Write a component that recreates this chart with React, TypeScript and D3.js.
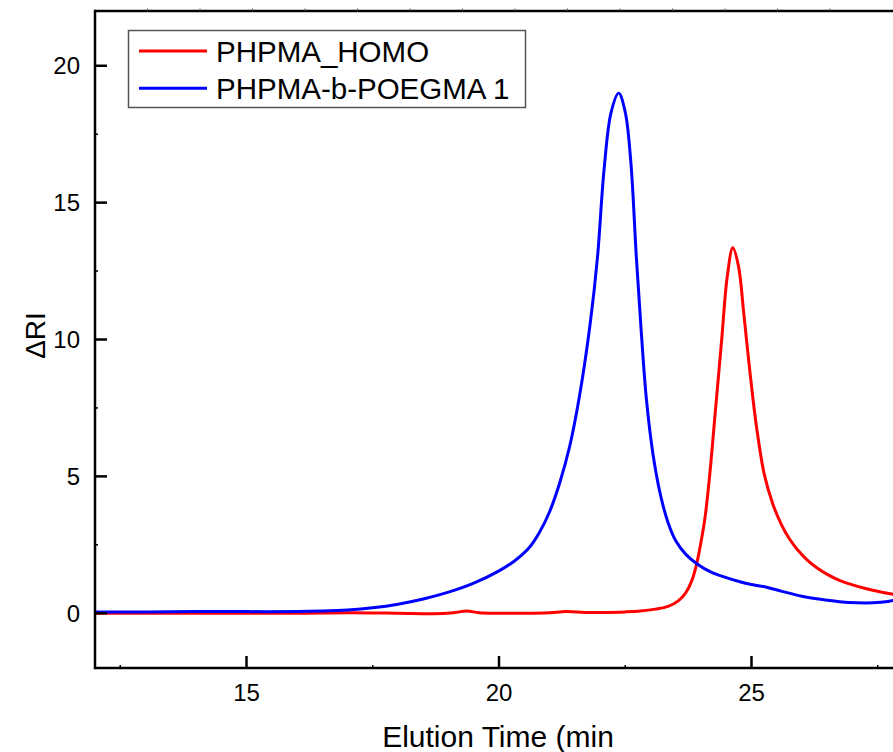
import React from 'react';
import * as d3 from 'd3';

// PHPMA_HOMO (red)
const homoX = [12, 13, 14, 15, 16, 17, 18, 18.7, 19.1, 19.36, 19.6, 20, 20.5, 21, 21.33, 21.7, 22, 22.5, 22.8, 23.1, 23.35, 23.55, 23.7, 23.82, 23.92, 24.0, 24.08, 24.17, 24.29, 24.41, 24.52, 24.63, 24.74, 24.85, 24.97, 25.1, 25.25, 25.42, 25.59, 25.75, 25.92, 26.1, 26.3, 26.5, 26.74, 27.1, 27.4, 27.78, 28.0];
const homoY = [0.0, 0.0, 0.0, 0.0, 0.0, 0.02, 0.0, -0.02, 0.02, 0.08, 0.02, 0.0, 0.0, 0.02, 0.06, 0.03, 0.03, 0.05, 0.08, 0.15, 0.25, 0.45, 0.75, 1.2, 1.85, 2.6, 3.5, 5.0, 7.5, 10.0, 12.3, 13.35, 12.7, 10.9, 8.8, 6.8, 5.1, 4.0, 3.25, 2.72, 2.3, 1.95, 1.65, 1.42, 1.2, 0.98, 0.84, 0.7, 0.63];

// PHPMA-b-POEGMA 1 (blue)
const blockX = [12, 13, 14, 15, 16, 16.5, 17, 17.5, 18, 18.5, 19, 19.5, 20, 20.3, 20.6, 20.8, 21.0, 21.2, 21.4, 21.6, 21.8, 21.95, 22.08, 22.22, 22.37, 22.5, 22.61, 22.72, 22.82, 22.92, 23.05, 23.2, 23.35, 23.5, 23.7, 23.91, 24.2, 24.5, 24.77, 25.0, 25.3, 25.6, 26.0, 26.4, 26.74, 27.1, 27.4, 27.7, 28.0];
const blockY = [0.05, 0.05, 0.06, 0.06, 0.06, 0.08, 0.12, 0.2, 0.33, 0.52, 0.77, 1.1, 1.55, 1.9, 2.4, 2.95, 3.7, 4.75, 6.1, 8.0, 10.5, 13.0, 16.2, 18.3, 19.0, 18.3, 16.5, 13.0, 10.2, 7.8, 5.8, 4.3, 3.3, 2.65, 2.15, 1.82, 1.5, 1.3, 1.15, 1.05, 0.95, 0.8, 0.62, 0.5, 0.42, 0.38, 0.38, 0.43, 0.55];

const seriesNames = ['PHPMA_HOMO', 'PHPMA-b-POEGMA 1'];
const seriesColors = ['#ff0000', '#0000ff'];

const xMajor = [15, 20, 25];
const xMinor = [12.5, 17.5, 22.5, 27.5];
const yMajor = [0, 5, 10, 15, 20];
const yMinor = [2.5, 7.5, 12.5, 17.5];
const topTicks = [1, 2, 3, 4, 5, 6, 7, 8, 9, 10, 11, 12, 13, 14];

const W = 893;
const H = 752;
const left = 95;
const right = 903;
const top = 11;
const bottom = 668;
const font = '"Liberation Sans", Arial, sans-serif';

export default function App() {
  const x = d3.scaleLinear().domain([12, 28]).range([left, right]);
  const y = d3.scaleLinear().domain([-2, 22]).range([bottom, top]);
  const xTop = d3.scaleLinear().domain([0, 15.2]).range([left, left + 15.2 * 52.5]);

  const line = d3.line<[number, number]>()
    .x(d => x(d[0]))
    .y(d => y(d[1]))
    .curve(d3.curveCatmullRom.alpha(0.5));

  const homo = homoX.map((v, i) => [v, homoY[i]] as [number, number]);
  const block = blockX.map((v, i) => [v, blockY[i]] as [number, number]);

  // legend
  const lg = { x: 128.5, y: 30.5, w: 397, h: 77 };

  return (
    <svg width={W} height={H} style={{ position: 'absolute', left: 0, top: 0, background: '#fff' }}>
      <defs>
        <clipPath id="plot">
          <rect x={left} y={top} width={right - left} height={bottom - top} />
        </clipPath>
      </defs>

      <g clipPath="url(#plot)">
        <path d={line(homo) || ''} fill="none" stroke={seriesColors[0]} strokeWidth={3} />
        <path d={line(block) || ''} fill="none" stroke={seriesColors[1]} strokeWidth={3} />
      </g>

      {/* frame */}
      <line x1={left} x2={W + 20} y1={top} y2={top} stroke="#000" strokeWidth={2.5} />
      <line x1={left} x2={W + 20} y1={bottom} y2={bottom} stroke="#000" strokeWidth={2.5} />
      <line x1={left} x2={left} y1={top - 1.2} y2={bottom + 1.2} stroke="#000" strokeWidth={2.5} />

      {/* top axis tiny ticks */}
      {topTicks.map(t => (
        <line key={'tt' + t} x1={xTop(t)} x2={xTop(t)} y1={top} y2={top - 2.5} stroke="#555" strokeWidth={1} />
      ))}

      {/* x ticks */}
      {xMajor.map(t => (
        <g key={'xm' + t}>
          <line x1={x(t)} x2={x(t)} y1={bottom} y2={bottom - 12} stroke="#000" strokeWidth={2.5} />
          <text x={x(t)} y={701} textAnchor="middle" fontFamily={font} fontSize={24}>{t}</text>
        </g>
      ))}
      {xMinor.map(t => (
        <line key={'xn' + t} x1={x(t)} x2={x(t)} y1={bottom} y2={bottom - 3} stroke="#000" strokeWidth={1.5} />
      ))}

      {/* y ticks */}
      {yMajor.map(t => (
        <g key={'ym' + t}>
          <line x1={left} x2={left + 12} y1={y(t)} y2={y(t)} stroke="#000" strokeWidth={2.5} />
          <text x={80} y={y(t)} dy="0.35em" textAnchor="end" fontFamily={font} fontSize={24}>{t}</text>
        </g>
      ))}
      {yMinor.map(t => (
        <line key={'yn' + t} x1={left} x2={left + 3} y1={y(t)} y2={y(t)} stroke="#000" strokeWidth={1.5} />
      ))}

      {/* axis titles */}
      <text x={(left + right) / 2 - 1} y={747} textAnchor="middle" fontFamily={font} fontSize={30}>Elution Time (min</text>
      <text transform={`translate(45, ${(top + bottom) / 2 - 4}) rotate(-90)`} textAnchor="middle" fontFamily={font} fontSize={28}>ΔRI</text>

      {/* legend */}
      <rect x={lg.x} y={lg.y} width={lg.w} height={lg.h} fill="#fff" stroke="#555" strokeWidth={1.5} />
      {seriesNames.map((n, i) => (
        <g key={n}>
          <line x1={139} x2={207} y1={51 + i * 37.3} y2={51 + i * 37.3} stroke={seriesColors[i]} strokeWidth={3} />
          <text x={216} y={62 + i * 36.5} fontFamily={font} fontSize={29.5}>{n}</text>
        </g>
      ))}
    </svg>
  );
}
